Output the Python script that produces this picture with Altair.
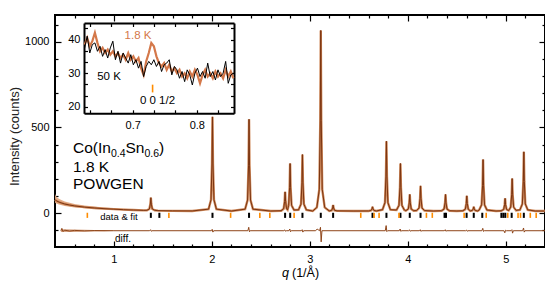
import altair as alt
import pandas as pd

W, H = 490, 232
FONT = "Liberation Sans"

# ---------------- main powder pattern (q in 1/Å, counts) ----------------
fit_q = [0.40, 0.42, 0.45, 0.50, 0.55, 0.60, 0.70, 0.80, 0.90, 1.00, 1.10, 1.20, 1.30,
         1.338, 1.363, 1.373, 1.378, 1.383, 1.393, 1.418, 1.45, 1.60, 1.80,
         1.967, 1.992, 2.002, 2.007, 2.012, 2.022, 2.047, 2.20,
         2.340, 2.365, 2.375, 2.380, 2.385, 2.395, 2.420, 2.60,
         2.708, 2.733, 2.743, 2.748, 2.753, 2.763, 2.773,
         2.784, 2.794, 2.799, 2.804, 2.814, 2.839,
         2.885, 2.910, 2.920, 2.925, 2.930, 2.940, 2.965, 3.03,
         3.072, 3.097, 3.107, 3.112, 3.117, 3.127, 3.152,
         3.198, 3.223, 3.233, 3.238, 3.243, 3.253, 3.278, 3.45,
         3.600, 3.625, 3.635, 3.640, 3.645, 3.655, 3.680,
         3.742, 3.767, 3.777, 3.782, 3.787, 3.797, 3.822,
         3.885, 3.910, 3.920, 3.925, 3.930, 3.940, 3.965,
         3.980, 4.005, 4.015, 4.020, 4.025, 4.035, 4.060,
         4.090, 4.115, 4.125, 4.130, 4.135, 4.145, 4.170, 4.26,
         4.345, 4.370, 4.380, 4.385, 4.390, 4.400, 4.425, 4.50,
         4.562, 4.587, 4.597, 4.602, 4.607, 4.617, 4.637,
         4.658, 4.668, 4.673, 4.678, 4.688, 4.713,
         4.728, 4.753, 4.763, 4.768, 4.773, 4.783, 4.808, 4.90,
         4.953, 4.978, 4.988, 4.993, 4.998, 5.008, 5.029,
         5.050, 5.060, 5.065, 5.070, 5.080, 5.105,
         5.144, 5.169, 5.179, 5.184, 5.189, 5.199, 5.224, 5.30, 5.40]
fit_I = [78, 70, 62, 53, 47, 42, 35, 30, 26, 23, 20, 18, 16,
         16.5, 24, 52.5, 90, 52.5, 24, 16.5, 14.5, 13, 12.5,
         23, 78, 287, 562, 287, 78, 23, 12,
         23, 76, 280, 548, 280, 76, 23, 12,
         14, 25, 68, 124, 68, 25, 19,
         45, 151, 290, 151, 45, 18,
         19, 52, 177, 342, 177, 52, 19, 12,
         33, 139, 539, 1067, 539, 139, 33,
         13, 16, 29.5, 47, 29.5, 16, 13, 12,
         12.5, 15, 24.5, 37, 24.5, 15, 12.5,
         20, 61, 216, 420, 216, 61, 20,
         18, 45, 151, 290, 151, 45, 18,
         14, 23.6, 60.5, 109, 60.5, 23.6, 14,
         15, 29.6, 85.5, 159, 85.5, 29.6, 15, 12,
         14, 23.6, 60.5, 109, 60.5, 23.6, 14, 12,
         13.8, 22.7, 56.5, 101, 56.5, 22.7, 13,
         15, 24.5, 37, 24.5, 15, 12.5,
         18, 48, 162.5, 313, 162.5, 48, 18, 12,
         13.5, 21, 49, 86, 49, 21, 15,
         35, 107, 202, 107, 35, 16,
         19, 53.5, 185, 358, 185, 53.5, 19, 12, 12]

# noisy spread of the measured data at low q
band_q = [0.40, 0.41, 0.42, 0.44, 0.46, 0.50, 0.55, 0.60, 0.70, 0.80, 0.90, 1.00, 1.10, 1.20, 1.30]
band_hi = [112, 100, 92, 84, 78, 68, 60, 53, 44, 38, 33, 29, 26, 23, 20]
band_lo = [60, 58, 55, 50, 47, 42, 37, 33, 28, 24, 21, 19, 17, 15, 14]

# difference curve (obs - calc), drawn shifted down
DIFF_OFFSET = -103
diff_q = [0.46, 0.47, 0.48, 0.50, 0.55, 0.60, 0.70, 0.80, 1.00,
          1.366, 1.375, 1.382, 1.390,
          1.995, 2.004, 2.011, 2.019,
          2.368, 2.377, 2.384, 2.392,
          2.736, 2.745, 2.752, 2.760,
          2.787, 2.796, 2.803, 2.811,
          2.913, 2.922, 2.929, 2.937,
          3.060, 3.075, 3.090, 3.100, 3.109, 3.116, 3.124,
          3.770, 3.779, 3.786, 3.794,
          3.913, 3.922, 3.929, 3.937,
          4.008, 4.017, 4.024, 4.032,
          4.118, 4.127, 4.134, 4.142,
          4.373, 4.382, 4.389, 4.397,
          4.590, 4.599, 4.606, 4.614,
          4.756, 4.765, 4.772, 4.780,
          4.981, 4.990, 4.997, 5.005,
          5.053, 5.062, 5.069, 5.077,
          5.172, 5.181, 5.188, 5.196, 5.40]
diff_r = [0, 14, -4, 3, -2, 2, -1, 1, 0,
          0, 6, -3, 0,
          0, 8, -8, 0,
          0, 20, -6, 0,
          0, 5, -3, 0,
          0, 10, -6, 0,
          0, 6, -8, 0,
          0, 10, 4, 0, 20, -65, 0,
          0, 30, -5, 0,
          0, 10, -4, 0,
          0, 5, -3, 0,
          0, 6, -4, 0,
          0, 6, -3, 0,
          0, 4, -3, 0,
          0, 14, -4, 0,
          0, -12, 3, 0,
          0, 6, -14, 0,
          0, 16, -8, 0, 0]
dband_q = [0.46, 0.50, 0.60, 0.70, 0.80, 0.90, 1.00]
dband_hi = [8, 8, 7, 6, 5, 4, 2]
dband_lo = [-8, -8, -7, -6, -5, -4, -2]

# reflection positions
nuc_q = [1.378, 1.465, 2.007, 2.38, 2.748, 2.80, 2.925, 3.112, 3.238, 3.64, 3.782,
         3.925, 4.02, 4.13, 4.375, 4.39, 4.60, 4.673, 4.76, 4.955, 4.975, 4.995,
         5.06, 5.184]
mag_q = [0.73, 1.562, 2.192, 2.49, 2.592, 2.84, 3.52, 3.656, 3.707, 3.91, 4.19,
         4.25, 4.575, 4.80, 5.02, 5.125, 5.15, 5.25, 5.31]

x_major = [1, 2, 3, 4, 5]
x_minor = [0.6, 0.8, 1.2, 1.4, 1.6, 1.8, 2.2, 2.4, 2.6, 2.8, 3.2, 3.4, 3.6, 3.8,
           4.2, 4.4, 4.6, 4.8, 5.2]
y_major = [0, 500, 1000]
y_minor = [-100, 100, 200, 300, 400, 600, 700, 800, 900, 1100]

# ---------------- inset (0 0 1/2 region) ----------------
inset_q = [0.625, 0.629, 0.633, 0.637, 0.641, 0.645, 0.649, 0.653, 0.657, 0.661,
           0.665, 0.669, 0.673, 0.677, 0.681, 0.685, 0.689, 0.693, 0.697, 0.701,
           0.705, 0.709, 0.713, 0.717, 0.721, 0.725, 0.729, 0.733, 0.737, 0.741,
           0.745, 0.749, 0.753, 0.757, 0.761, 0.765, 0.769, 0.773, 0.777, 0.781,
           0.785, 0.789, 0.793, 0.797, 0.801, 0.805, 0.809, 0.813, 0.817, 0.821,
           0.825, 0.829, 0.833, 0.837, 0.841, 0.845, 0.849, 0.853, 0.857]
inset_18K = [38.5, 40.5, 38.0, 39.5, 42.0, 39.0, 36.5, 37.5, 36.0, 37.0,
             35.5, 36.5, 35.0, 36.0, 34.5, 35.5, 34.0, 36.0, 34.0, 35.0,
             33.5, 34.5, 31.5, 29.5, 33.5, 36.0, 39.0, 38.0, 35.0, 33.0,
             32.0, 33.0, 31.0, 32.5, 30.5, 31.5, 30.0, 31.0, 29.0, 30.0,
             28.5, 30.5, 29.0, 31.0, 29.5, 27.0, 29.5, 31.0, 29.0, 30.0,
             28.5, 30.5, 29.0, 30.0, 28.5, 31.0, 29.0, 30.5, 28.5]
inset_50K = [37.5, 41.0, 36.0, 38.5, 39.0, 36.5, 38.0, 35.0, 37.0, 34.5,
             37.5, 39.5, 34.0, 36.5, 33.0, 36.0, 34.5, 33.0, 35.5, 32.5,
             34.0, 31.5, 33.5, 29.0, 32.0, 33.5, 32.5, 34.0, 32.0, 33.5,
             30.5, 32.5, 33.0, 34.0, 29.5, 32.0, 31.0, 28.5, 30.5, 27.5,
             31.0, 29.5, 26.5, 30.0, 31.5, 29.0, 30.5, 28.5, 33.0, 29.0,
             30.5, 28.0, 31.0, 29.0, 30.0, 33.5, 27.0, 29.5, 30.0]
inset_peak_q = [0.731]
ix_major = [0.7, 0.8]
ix_all = [0.6333, 0.6667, 0.7, 0.7333, 0.7667, 0.8, 0.8333]
iy_major = [20, 30, 40]
iy_all = [20, 23.333, 26.667, 30, 33.333, 36.667, 40, 43.333]

# inset frame position inside the plot area (pixels)
IX0, IX1, IY0, IY1 = 29, 179, 98.3, 8

# ---------------- colours ----------------
C_FIT = "#7b3410"
C_OBS = "#cf8a5c"
C_BAND = "#e0a47c"
C_DIFF = "#8f4519"
C_DBAND = "#c98b63"
C_MAG = "#ff8c00"
C_18K = "#d4784a"

fit_df = pd.DataFrame({"q": fit_q, "I": fit_I})
band_df = pd.DataFrame({"q": band_q, "hi": band_hi, "lo": band_lo})
diff_df = pd.DataFrame({"q": diff_q, "d": [r + DIFF_OFFSET for r in diff_r]})
dband_df = pd.DataFrame({"q": dband_q,
                         "hi": [v + DIFF_OFFSET for v in dband_hi],
                         "lo": [v + DIFF_OFFSET for v in dband_lo]})
nuc_df = pd.DataFrame({"q": nuc_q})
mag_df = pd.DataFrame({"q": mag_q})
inset_df = pd.DataFrame({"q": inset_q, "K18": inset_18K, "K50": inset_50K})
ipk_df = pd.DataFrame({"q": inset_peak_q})
one = pd.DataFrame({"a": [0]})


def axis(orient, values, offset=0, tick=0, labels=False, pad=0, domain=False, fmt=None):
    kw = dict(orient=orient, values=values, offset=offset, title=None, grid=False,
              labels=labels, ticks=tick > 0, tickSize=tick, domain=domain)
    if labels:
        kw.update(labelPadding=pad, labelFontSize=11, labelColor="black", labelFont=FONT)
    if fmt:
        kw["format"] = fmt
    if domain:
        kw.update(domainColor="black", domainWidth=2)
    return alt.Axis(**kw)


def txt(s, x, y, size, color="black", align="left", baseline="alphabetic",
        style="normal", angle=0):
    return alt.Chart(one).mark_text(
        text=s, fontSize=size, color=color, align=align, baseline=baseline,
        font=FONT, fontStyle=style, angle=angle
    ).encode(x=alt.value(x), y=alt.value(y))


xs = alt.Scale(domain=[0.4, 5.4], nice=False, zero=False)
ys = alt.Scale(domain=[-198, 1157], nice=False, zero=False)

m_band = alt.Chart(band_df).mark_area(color=C_BAND, opacity=0.9).encode(
    x=alt.X("q:Q", scale=xs, axis=axis("bottom", x_major, labels=True, pad=6, fmt="d")),
    y=alt.Y("hi:Q", scale=ys, axis=axis("left", y_major, labels=True, pad=6, fmt="d")),
    y2="lo:Q")
m_obs = alt.Chart(fit_df).mark_line(color=C_OBS, strokeWidth=2.4).encode(
    x=alt.X("q:Q", scale=xs, axis=axis("top", x_major, offset=-H, tick=6)),
    y=alt.Y("I:Q", scale=ys, axis=axis("right", y_major, offset=-W, tick=6)))
m_fit = alt.Chart(fit_df).mark_line(color=C_FIT, strokeWidth=1).encode(
    x=alt.X("q:Q", scale=xs, axis=axis("top", x_minor, offset=-H, tick=3)),
    y=alt.Y("I:Q", scale=ys, axis=axis("right", y_minor, offset=-W, tick=3)))
m_dband = alt.Chart(dband_df).mark_area(color=C_DBAND, opacity=0.8).encode(
    x=alt.X("q:Q", scale=xs, axis=axis("bottom", x_major, offset=-H, tick=6)),
    y=alt.Y("hi:Q", scale=ys, axis=axis("left", y_major, offset=-W, tick=6)),
    y2="lo:Q")
m_diff = alt.Chart(diff_df).mark_line(color=C_DIFF, strokeWidth=1).encode(
    x=alt.X("q:Q", scale=xs, axis=axis("bottom", x_minor, offset=-H, tick=3)),
    y=alt.Y("d:Q", scale=ys, axis=axis("left", y_minor, offset=-W, tick=3)))
m_nuc = alt.Chart(nuc_df).transform_calculate(y0="2", y1="-28").mark_rule(
    color="black", strokeWidth=2).encode(
    x=alt.X("q:Q", scale=xs, axis=None),
    y=alt.Y("y0:Q", scale=ys, axis=None), y2="y1:Q")
m_mag = alt.Chart(mag_df).transform_calculate(y0="2", y1="-28").mark_rule(
    color=C_MAG, strokeWidth=1.6).encode(
    x=alt.X("q:Q", scale=xs, axis=None),
    y=alt.Y("y0:Q", scale=ys, axis=None), y2="y1:Q")

main_texts = [
    txt("Co(In", 18, 138, 15.5),
    txt("0.4", 55.9, 142, 10.5),
    txt("Sn", 70.5, 138, 15.5),
    txt("0.6", 89.5, 142, 10.5),
    txt(")", 104.1, 138, 15.5),
    txt("1.8 K", 18, 157, 15.5),
    txt("POWGEN", 18, 174, 15.5),
    txt("data & fit", 64, 201.5, 9.5, align="center", baseline="middle"),
    txt("diff.", 68, 223.5, 10, align="center", baseline="middle"),
    txt("Intensity (counts)", -40, 121.5, 13, color="#222", align="center",
        baseline="middle", angle=270),
    txt("q", 227, 262, 12.5, style="italic"),
    txt("(1/Å)", 237, 262, 12.5),
]

main = alt.layer(m_band, m_obs, m_fit, m_dband, m_diff, m_nuc, m_mag,
                 *main_texts).resolve_axis(x="independent", y="independent")

xi = alt.Scale(domain=[0.624, 0.858], range=[IX0, IX1], nice=False, zero=False)
yi = alt.Scale(domain=[18.1, 44.9], range=[IY0, IY1], nice=False, zero=False)

i_or = alt.Chart(inset_df).mark_line(color=C_18K, strokeWidth=2.2).encode(
    x=alt.X("q:Q", scale=xi, axis=axis("top", ix_all, offset=-IY0, tick=3.5)),
    y=alt.Y("K18:Q", scale=yi, axis=axis("right", iy_all, offset=-(W - IX0), tick=3.5)))
i_bk = alt.Chart(inset_df).mark_line(color="black", strokeWidth=1).encode(
    x=alt.X("q:Q", scale=xi, axis=axis("bottom", ix_major, offset=-(H - IY0),
                                       labels=True, pad=6, domain=True, fmt=".1f")),
    y=alt.Y("K50:Q", scale=yi, axis=axis("left", iy_major, offset=-IX0,
                                         labels=True, pad=4, domain=True, fmt="d")))
i_pk = alt.Chart(ipk_df).transform_calculate(y0="24.3", y1="26.6").mark_rule(
    color=C_MAG, strokeWidth=1.6).encode(
    x=alt.X("q:Q", scale=xi, axis=axis("bottom", ix_all, offset=-(H - IY1), tick=3.5,
                                       domain=True)),
    y=alt.Y("y0:Q", scale=yi, axis=axis("left", iy_all, offset=-IX1, tick=3.5,
                                        domain=True)),
    y2="y1:Q")
inset_texts = [
    txt("1.8 K", 83, 20.5, 11.5, color=C_18K, align="center", baseline="middle"),
    txt("50 K", 54, 61.5, 11.5, align="center", baseline="middle"),
    txt("0 0 1/2", 102.5, 85.5, 11.5, align="center", baseline="middle"),
]
inset = alt.layer(i_or, i_bk, i_pk, *inset_texts).resolve_axis(
    x="independent", y="independent")

chart = alt.layer(main, inset).resolve_scale(
    x="independent", y="independent"
).properties(
    width=W, height=H,
    autosize=alt.AutoSizeParams(type="none"),
    padding={"left": 47, "top": 7, "right": 0, "bottom": 33},
).configure(font=FONT).configure_view(
    stroke="black", strokeWidth=2
).configure_axis(tickColor="black", tickWidth=1.2, labelColor="black")

chart.save("out.html", embed_options={"renderer": "svg", "actions": False})
